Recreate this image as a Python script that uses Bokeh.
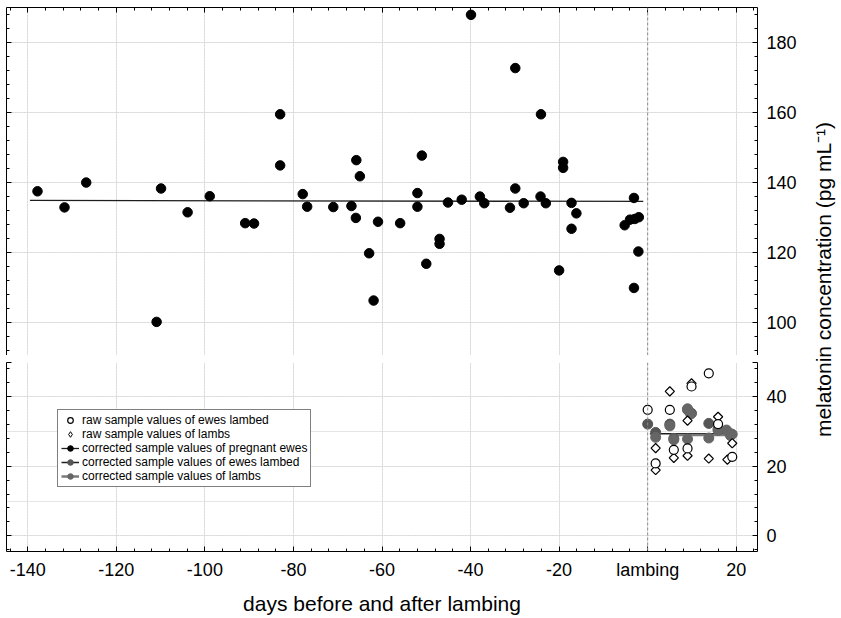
import numpy as np
from bokeh.plotting import figure
from bokeh.layouts import column, row
from bokeh.models import (Range1d, LinearAxis, FixedTicker, Span, Legend, LegendItem,
                          Label, Grid)
from bokeh.embed import file_html
from bokeh.resources import INLINE

# ---------------- data ----------------
preg_days = [-137.8, -131.7, -126.8, -110.9, -109.9, -103.9, -98.9, -90.9, -88.9, -83.0,
             -83.0, -77.9, -76.9, -71.0, -66.9, -65.8, -65.0, -65.9, -62.9, -61.9,
             -60.9, -55.9, -52.0, -52.0, -51.0, -50.0, -47.0, -47.0, -45.1, -42.0,
             -39.9, -37.9, -36.9, -31.1, -29.9, -29.9, -28.0, -24.1, -24.2, -23.0,
             -20.0, -19.1, -19.1, -17.2, -16.1, -17.2, -5.2, -4.0, -2.9, -2.0,
             -3.1, -2.1, -3.1]
preg_mel = [137.5, 132.9, 140.0, 100.2, 138.3, 131.5, 136.1, 128.4, 128.3, 159.5,
            144.9, 136.7, 133.1, 133.0, 133.3, 146.4, 141.8, 129.9, 119.8, 106.3,
            128.8, 128.4, 137.0, 133.1, 147.7, 116.8, 123.9, 122.5, 134.3, 135.1,
            187.9, 136.0, 134.1, 132.8, 172.7, 138.3, 134.1, 159.5, 136.0, 134.1,
            114.9, 145.9, 144.2, 134.2, 131.2, 126.8, 127.8, 129.4, 129.6, 130.1,
            135.6, 120.3, 109.9]

raw_ewes_days = [0.0, 1.8, 5.0, 5.9, 9.0, 9.9, 13.8, 15.9, 19.1]
raw_ewes_mel = [36.2, 20.8, 36.2, 24.7, 25.1, 42.9, 46.7, 32.1, 22.7]

raw_lambs_days = [1.8, 1.8, 5.0, 5.9, 9.0, 9.0, 9.9, 13.8, 15.9, 18.0, 19.1]
raw_lambs_mel = [18.9, 25.2, 41.5, 22.4, 33.1, 23.0, 43.8, 22.2, 34.2, 21.9, 26.6]

corr_ewes_days = [0.0, 1.8, 5.0, 5.9, 9.0, 9.9, 13.8, 15.9, 18.7]
corr_ewes_mel = [32.1, 29.7, 32.1, 28.0, 36.2, 35.2, 32.3, 30.7, 29.3]

corr_lambs_days = [1.8, 5.0, 5.9, 9.0, 9.0, 9.7, 13.8, 15.9, 17.8, 18.7, 19.1]
corr_lambs_mel = [28.3, 31.6, 27.6, 27.8, 36.5, 35.0, 28.1, 30.3, 30.4, 28.8, 29.2]

fit_preg_days = [-139.5, -1.0]
fit_preg_mel = [134.9, 134.6]
fit_ewes_days = [0.5, 20.0]
fit_ewes_mel = [29.3, 29.3]
fit_lambs_days = [5.0, 20.0]
fit_lambs_mel = [29.0, 29.0]

x_ticks = [-140, -120, -100, -80, -60, -40, -20, 0, 20]
x_tick_labels = ["-140", "-120", "-100", "-80", "-60", "-40", "-20", "lambing", "20"]
upper_ticks = [100, 120, 140, 160, 180]
lower_ticks = [0, 20, 40]

# ---------------- styling ----------------
FONT = "Liberation Sans"
X_START, X_END = -144.8, 24.8
UP_START, UP_END = 90.6, 190.0
LO_START, LO_END = -4.5, 49.8
x_minor = list(range(-144, 25, 4))
up_minor = list(range(92, 190, 4))
lo_minor = list(range(-4, 50, 4))
GRID_COLOR = "#d2d2d2"


def add_axis(p, side, ticks, minor, labels=None, show_labels=True):
    ax = LinearAxis(ticker=FixedTicker(ticks=ticks, minor_ticks=minor))
    ax.axis_line_color = "black"
    ax.axis_line_width = 1
    ax.major_tick_in = 5
    ax.major_tick_out = 0
    ax.minor_tick_in = 3
    ax.minor_tick_out = 0
    ax.major_tick_line_color = "black"
    ax.minor_tick_line_color = "black"
    if show_labels:
        ax.major_label_text_font = FONT
        ax.major_label_text_font_size = "18px"
        ax.major_label_text_color = "black"
        ax.major_label_standoff = 9
        if labels is not None:
            ax.major_label_overrides = labels
    else:
        # ticks only: blank labels
        ax.major_label_text_font_size = "1px"
        ax.major_label_standoff = 0
        ax.major_label_overrides = {t: "" for t in ticks}
    p.add_layout(ax, side)
    return ax


def add_grids(p, yticks):
    gx = Grid(dimension=0, ticker=FixedTicker(ticks=[t for t in x_ticks if t != 0]))
    gy = Grid(dimension=1, ticker=FixedTicker(ticks=yticks))
    for g in (gx, gy):
        g.grid_line_color = GRID_COLOR
        g.grid_line_dash = "1 2"
        g.grid_line_width = 1
        p.add_layout(g)
    p.add_layout(Span(location=0, dimension="height", line_color="#8c8c8c",
                      line_dash="3 2", line_width=1))


common = dict(output_backend="svg", toolbar_location=None, x_axis_location=None,
              y_axis_location=None, outline_line_color=None, background_fill_color="white",
              border_fill_color="white", frame_width=751, min_border_left=6,
              min_border_right=0)

# ---------------- upper panel ----------------
up = figure(frame_height=348, x_range=Range1d(X_START, X_END),
            y_range=Range1d(UP_START, UP_END), min_border_top=7, min_border_bottom=0,
            **common)
add_grids(up, upper_ticks)
add_axis(up, "above", x_ticks, x_minor, show_labels=False)
add_axis(up, "left", upper_ticks + [UP_START], up_minor, show_labels=False)
add_axis(up, "right", upper_ticks + [UP_START], up_minor, labels={UP_START: ""})
up.line(fit_preg_days, fit_preg_mel, line_color="#1e1e1e", line_width=1.3)
up.scatter(preg_days, preg_mel, marker="circle", size=9.5, fill_color="black",
           line_color="black")

# ---------------- lower panel ----------------
lo = figure(frame_height=189, x_range=up.x_range,
            y_range=Range1d(LO_START, LO_END), min_border_top=7, min_border_bottom=0,
            **common)
# an off-screen range, used only so that legend swatches can show their own marker shape
lo.extra_x_ranges = {"legend_only": Range1d(1000, 1001)}
add_grids(lo, lower_ticks)
xb = add_axis(lo, "below", x_ticks, x_minor,
              labels={t: s for t, s in zip(x_ticks, x_tick_labels)})
xb.major_label_standoff = 8
xb.axis_label = "days before and after lambing"
xb.axis_label_text_font = FONT
xb.axis_label_text_font_size = "21px"
xb.axis_label_text_font_style = "normal"
xb.axis_label_text_color = "black"
xb.axis_label_standoff = 9
add_axis(lo, "left", lower_ticks + [LO_END], lo_minor, show_labels=False)
add_axis(lo, "right", lower_ticks + [LO_END], lo_minor, labels={LO_END: ""})

# proxies for the legend (pregnant ewes values lie outside this panel's range)
r_preg_line = lo.line(fit_preg_days, fit_preg_mel, line_color="#1e1e1e", line_width=1.3)
r_preg_pts = lo.scatter(preg_days, preg_mel, marker="circle", size=9.5,
                        fill_color="black", line_color="black")

r_fit_ewes = lo.line(fit_ewes_days, fit_ewes_mel, line_color="#1e1e1e", line_width=1.5)
r_fit_lambs = lo.line(fit_lambs_days, fit_lambs_mel, line_color="#7a7a7a", line_width=2.5)
r_corr_ewes = lo.scatter(corr_ewes_days, corr_ewes_mel, marker="circle", size=10,
                         fill_color="#555555", line_color="#555555")
r_corr_lambs = lo.scatter(corr_lambs_days, corr_lambs_mel, marker="circle", size=10,
                          fill_color="#666666", line_color="#666666")
lo.scatter(raw_lambs_days, raw_lambs_mel, marker="square", angle=np.pi / 4,
           size=6.5, fill_color="white", line_color="black", line_width=1.2)
r_raw_lambs_key = lo.scatter(raw_lambs_days, raw_lambs_mel, marker="diamond", size=9,
                             fill_color="white", line_color="black", line_width=1.0,
                             x_range_name="legend_only")
r_raw_ewes = lo.scatter(raw_ewes_days, raw_ewes_mel, marker="circle", size=9,
                        fill_color="white", line_color="black", line_width=1.2)

legend = Legend(items=[
    LegendItem(label="raw sample values of ewes lambed", renderers=[r_raw_ewes]),
    LegendItem(label="raw sample values of lambs", renderers=[r_raw_lambs_key]),
    LegendItem(label="corrected sample values of pregnant ewes",
               renderers=[r_preg_line, r_preg_pts]),
    LegendItem(label="corrected sample values of ewes lambed",
               renderers=[r_fit_ewes, r_corr_ewes]),
    LegendItem(label="corrected sample values of lambs",
               renderers=[r_fit_lambs, r_corr_lambs]),
], location=(51, 64))
legend.label_text_font = FONT
legend.label_text_font_size = "12px"
legend.label_text_color = "black"
legend.label_height = 14
legend.glyph_height = 14
legend.glyph_width = 18
legend.label_standoff = 3
legend.spacing = 0
legend.padding = 3
legend.margin = 0
legend.border_line_color = "black"
legend.border_line_width = 1
legend.background_fill_color = "white"
legend.background_fill_alpha = 1
lo.add_layout(legend, "center")

# ---------------- y-axis title (spans both panels) ----------------
lab = figure(frame_width=44, frame_height=544, x_range=Range1d(0, 1), y_range=Range1d(0, 1),
             output_backend="svg", toolbar_location=None, x_axis_location=None,
             y_axis_location=None, outline_line_color=None, min_border_top=7,
             min_border_bottom=0, min_border_left=0, min_border_right=0)
lab.grid.visible = False
lab.add_layout(Label(x=0.55, y=0.5, text="melatonin concentration (pg mL\u207b\u00b9)",
                     angle=np.pi / 2, text_align="center", text_baseline="middle",
                     text_font=FONT, text_font_size="21px", text_color="black"))

layout = row(column(up, lo, spacing=0), lab, spacing=0)

open("out.html", "w").write(file_html(layout, INLINE))
